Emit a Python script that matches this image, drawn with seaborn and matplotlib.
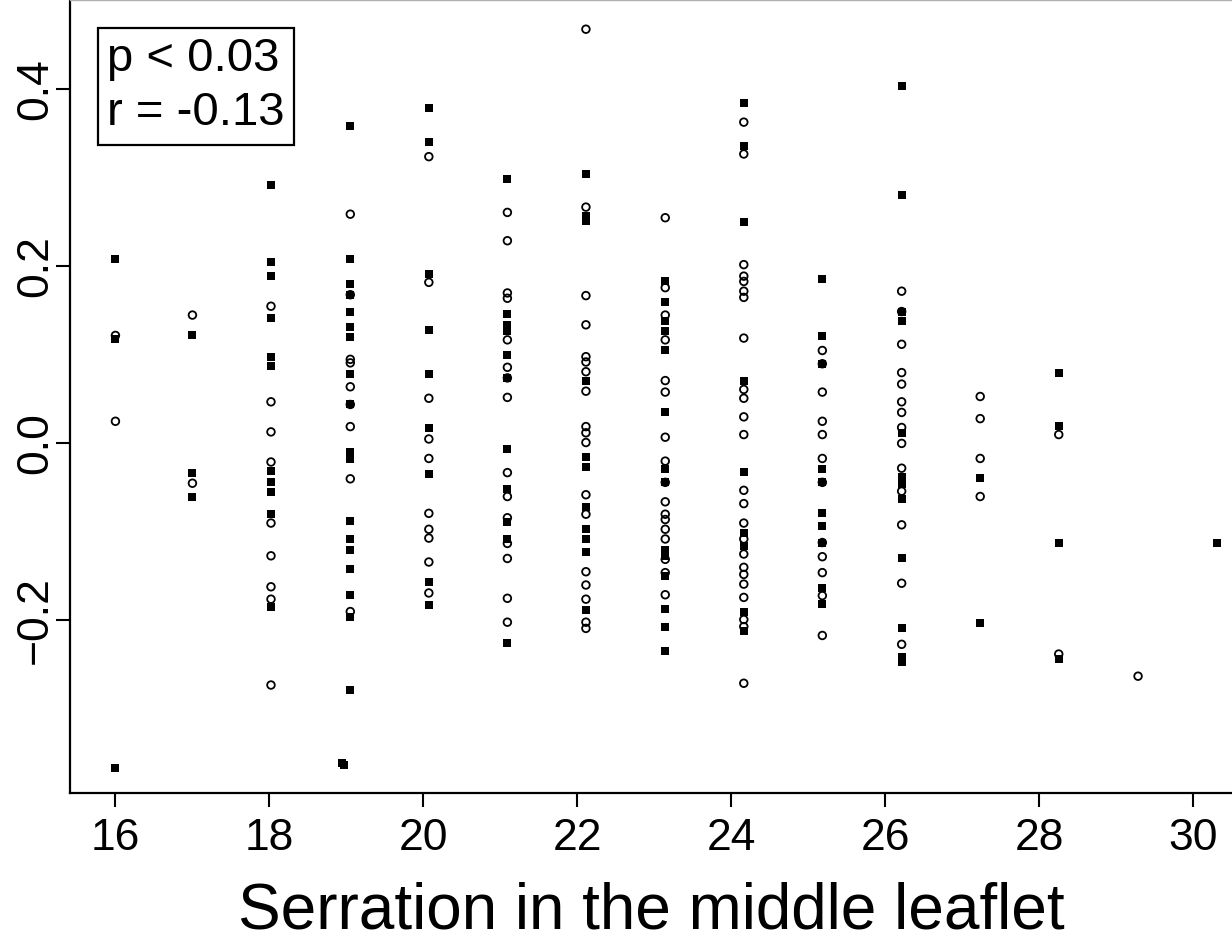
import seaborn as sns
import matplotlib.pyplot as plt
import numpy as np
import pandas as pd

sns.set_theme(style="white")
plt.rcParams['font.family'] = ['Liberation Sans', 'DejaVu Sans']
plt.rcParams['text.color'] = 'black'
plt.rcParams['xtick.color'] = 'black'
plt.rcParams['ytick.color'] = 'black'
plt.rcParams['axes.labelcolor'] = 'black'

# x position of each serration column (values drift slightly right of the integers)
col_x = [16.0, 17.0, 18.02, 19.05, 20.07, 21.09, 22.11, 23.14, 24.16, 25.18,
         26.21, 27.23, 28.25, 29.28, 30.3]

# open circles, one list per column
open_y = [
    [0.122, 0.025],
    [0.145, -0.045],
    [0.155, 0.047, 0.013, -0.021, -0.090, -0.127, -0.162, -0.176, -0.273],
    [0.259, 0.168, 0.095, 0.091, 0.064, 0.044, 0.019, -0.040, -0.190],
    [0.324, 0.182, 0.051, 0.005, -0.017, -0.079, -0.097, -0.107, -0.134, -0.169],
    [0.261, 0.229, 0.170, 0.164, 0.117, 0.086, 0.074, 0.052, -0.033, -0.060,
     -0.084, -0.113, -0.130, -0.175, -0.202],
    [0.468, 0.267, 0.167, 0.134, 0.098, 0.092, 0.081, 0.059, 0.019, 0.012,
     0.001, -0.058, -0.080, -0.145, -0.160, -0.176, -0.202, -0.209],
    [0.255, 0.176, 0.145, 0.117, 0.071, 0.058, 0.007, -0.020, -0.044, -0.066,
     -0.080, -0.086, -0.097, -0.108, -0.131, -0.146, -0.171],
    [0.363, 0.327, 0.202, 0.189, 0.183, 0.172, 0.165, 0.119, 0.061, 0.051,
     0.030, 0.010, -0.053, -0.068, -0.090, -0.108, -0.125, -0.140, -0.148,
     -0.159, -0.174, -0.199, -0.207, -0.271],
    [0.105, 0.090, 0.058, 0.025, 0.010, -0.017, -0.044, -0.112, -0.128,
     -0.146, -0.172, -0.217],
    [0.172, 0.149, 0.112, 0.080, 0.067, 0.047, 0.035, 0.018, 0.000, -0.028,
     -0.054, -0.092, -0.158, -0.227],
    [0.053, 0.028, -0.017, -0.060],
    [0.010, -0.238],
    [-0.263],
    [],
]

# filled squares, one list per column
filled_y = [
    [0.208, 0.118, -0.367],
    [0.123, -0.033, -0.060],
    [0.292, 0.205, 0.189, 0.142, 0.098, 0.087, -0.031, -0.044, -0.055,
     -0.080, -0.185],
    [0.359, 0.208, 0.180, 0.168, 0.148, 0.131, 0.120, 0.078, 0.044, -0.010,
     -0.018, -0.088, -0.108, -0.120, -0.142, -0.171, -0.196, -0.279],
    [0.379, 0.341, 0.191, 0.128, 0.078, 0.017, -0.035, -0.157, -0.183],
    [0.299, 0.146, 0.134, 0.127, 0.100, 0.074, -0.006, -0.052, -0.089,
     -0.108, -0.226],
    [0.304, 0.257, 0.251, 0.070, -0.015, -0.027, -0.072, -0.097, -0.108,
     -0.123, -0.188],
    [0.183, 0.160, 0.138, 0.127, 0.106, 0.035, -0.029, -0.044, -0.120,
     -0.127, -0.150, -0.187, -0.207, -0.234],
    [0.385, 0.336, 0.250, 0.071, -0.032, -0.101, -0.116, -0.191, -0.212],
    [0.186, 0.121, 0.090, -0.029, -0.044, -0.079, -0.093, -0.112, -0.163,
     -0.181],
    [0.404, 0.281, 0.149, 0.138, 0.012, -0.038, -0.046, -0.063, -0.130,
     -0.209, -0.241, -0.247],
    [-0.039, -0.203],
    [0.079, 0.020, -0.112, -0.244],
    [],
    [-0.113],
]

# two squares sitting just left of the 19 column near the bottom
extra_x = [18.94, 18.97]
extra_y = [-0.361, -0.363]

xticks = [16, 18, 20, 22, 24, 26, 28, 30]
yticks = [-0.2, 0.0, 0.2, 0.4]

open_df = pd.DataFrame({
    "x": [x for x, ys in zip(col_x, open_y) for _ in ys],
    "y": [v for ys in open_y for v in ys],
})
filled_df = pd.DataFrame({
    "x": [x for x, ys in zip(col_x, filled_y) for _ in ys] + extra_x,
    "y": [v for ys in filled_y for v in ys] + extra_y,
})

fig = plt.figure(figsize=(12.32, 9.42), dpi=100)
ax = fig.add_axes([70 / 1232, 1 - 793 / 942, 1 - 70 / 1232, 793 / 942])

sns.scatterplot(data=filled_df, x="x", y="y", marker="s", color="black",
                s=28, linewidth=0, ax=ax)
sns.scatterplot(data=open_df, x="x", y="y", marker="o", facecolors="none",
                edgecolor="black", linewidth=1.3, s=30, ax=ax)

ax.set_xlim(15.41, 30.5)
ax.set_ylim(-0.395, 0.501)
ax.set_xticks(xticks)
ax.set_xticklabels([str(t) for t in xticks])
ax.set_yticks(yticks)
ax.set_yticklabels(["\u22120.2", "0.0", "0.2", "0.4"])

ax.tick_params(axis="x", length=10, width=1.5, pad=8, labelsize=32,
               direction="out", bottom=True)
ax.tick_params(axis="y", length=10, width=1.5, pad=0, labelsize=32,
               direction="out", left=True, labelrotation=90)
for lab in ax.get_yticklabels():
    lab.set_va("center")

for side in ["left", "bottom"]:
    ax.spines[side].set_linewidth(1.6)
    ax.spines[side].set_color("black")
ax.spines["right"].set_visible(False)
ax.spines["top"].set_color("#b0b0b0")
ax.spines["top"].set_linewidth(1.0)

ax.set_xlabel("Serration in the middle leaflet", fontsize=46, labelpad=16)
ax.set_ylabel("")

ax.text(0.032, 0.953, "p < 0.03\nr = -0.13", transform=ax.transAxes,
        ha="left", va="top", fontsize=34, linespacing=1.3,
        bbox=dict(boxstyle="square,pad=0.2", fc="white", ec="black", lw=1.6))

fig.savefig("out.png", dpi=100)
